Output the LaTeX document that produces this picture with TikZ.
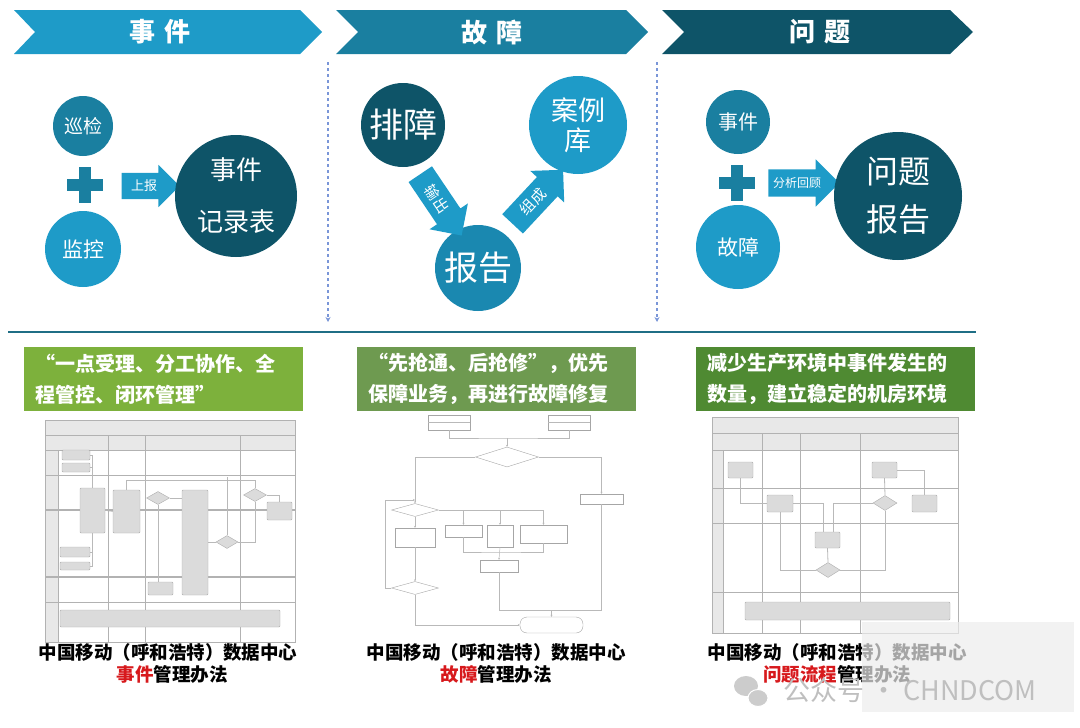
\documentclass[tikz,border=0pt]{standalone}
\usepackage{fontspec}
\usetikzlibrary{arrows.meta,shapes.arrows,shapes.geometric}
\newfontfamily\cjk{Noto Sans CJK SC}
\definecolor{cyanA}{HTML}{1E9BC8}
\definecolor{cyanB}{HTML}{1A7FA0}
\definecolor{cyanC}{HTML}{0E5468}
\definecolor{cyanD}{HTML}{1A88B0}
\definecolor{rulecol}{HTML}{1F6E85}
\definecolor{dashblue}{HTML}{7A96D8}
\definecolor{greenA}{HTML}{7DB13C}
\definecolor{greenB}{HTML}{6E9A50}
\definecolor{greenC}{HTML}{4F8A32}
\definecolor{capred}{HTML}{D7191C}
\newcommand{\fs}[1]{\fontsize{#1}{#1}\selectfont}
\newcommand{\plussign}[1]{%
  \fill[cyanB] ([shift={(-18,-6)}]#1) rectangle ([shift={(18,6)}]#1);
  \fill[cyanB] ([shift={(-6,-18)}]#1) rectangle ([shift={(6,18)}]#1);}

\begin{document}
\begin{tikzpicture}[x=1pt,y=-1pt,
  bubble/.style={circle,inner sep=0pt,text=white,align=center},
  blockarrow/.style={single arrow,fill=#1,text=white,inner xsep=2pt,inner ysep=6pt,
    single arrow head extend=8pt,font=\cjk\fs{13}},
  title/.style={text=white,font=\cjk\bfseries\fs{26}},
  divider/.style={draw=dashblue,line width=1.3pt,dash pattern=on 3pt off 3pt,-{Stealth[length=5pt,width=5pt]}},
  slogan/.style={fill=#1,text=white,font=\cjk\bfseries\fontsize{20}{31}\selectfont,
    align=left,text width=257pt,inner xsep=11pt,inner ysep=0pt,minimum height=64pt,anchor=north west},
  caption/.style={font=\cjk\bfseries\fs{18.5}},
  lane/.style={draw=gray!60,line width=0.5pt},
  tbox/.style={draw=gray!65,fill=gray!28,inner sep=0pt,rounded corners=1pt,line width=0.4pt},
  tdiam/.style={diamond,draw=gray!65,fill=gray!28,inner sep=0pt,line width=0.4pt},
  fbox/.style={draw=gray!70,fill=white,inner sep=0pt,line width=0.4pt},
  fdiam/.style={diamond,draw=gray!70,fill=white,inner sep=0pt,line width=0.4pt},
  tlink/.style={draw=gray!55,line width=0.5pt},
  tarrow/.style={tlink,-{Stealth[length=2pt,width=2pt]}}]
\useasboundingbox (0,0) rectangle (1080,728);

% header chevrons
\fill[cyanA] (14,10) -- (300,10) -- (322,32) -- (300,54) -- (14,54) -- (35,32) -- cycle;
\fill[cyanB] (336,10) -- (626,10) -- (648,32) -- (626,54) -- (336,54) -- (358,32) -- cycle;
\fill[cyanC] (662,10) -- (950,10) -- (973,32) -- (950,54) -- (662,54) -- (684,32) -- cycle;
\node[title] (h1) at (160,32) {事\hspace{10pt}件};
\node[title] (h2) at (492,32) {故\hspace{10pt}障};
\node[title] (h3) at (820,32) {问\hspace{10pt}题};

% dividers
\coordinate (d1a) at (328,62); \coordinate (d1b) at (328,322);
\coordinate (d2a) at (657,62); \coordinate (d2b) at (657,322);
\draw[divider] (d1a) -- (d1b);
\draw[divider] (d2a) -- (d2b);
\coordinate (ra) at (8,332); \coordinate (rb) at (976,332);
\draw[rulecol,line width=2pt] (ra) -- (rb);

% event
\node[bubble,fill=cyanB,minimum size=60pt,font=\cjk\fs{19}] (xunjian) at (83,126) {巡检};
\node[bubble,fill=cyanA,minimum size=76pt,font=\cjk\fs{21}] (jiankong) at (83,249) {监控};
\coordinate (plus1) at (85,185);
\plussign{plus1}
\node[blockarrow=cyanA,minimum height=58pt,inner ysep=7pt] (shangbao) at (144,186) {上报};
\node[bubble,fill=cyanC,minimum size=122pt,font=\cjk\fontsize{26}{52}\selectfont] (jilu) at (236,196) {事件\\记录表};

% fault
\node[bubble,fill=cyanC,minimum size=84pt,font=\cjk\fs{34}] (paizhang) at (403,125) {排障};
\node[bubble,fill=cyanA,minimum size=98pt,font=\cjk\fontsize{27}{30}\selectfont] (anli) at (578,125) {案例\\库};
\node[bubble,fill=cyanD,minimum size=86pt,font=\cjk\fs{34}] (baogao) at (478,268) {报告};
\node[blockarrow=cyanA,minimum height=74pt,inner ysep=7pt,single arrow head extend=9pt,rotate=-56,font=\cjk\fs{15}] (shuchu) at (437,199) {输出};
\node[blockarrow=cyanA,minimum height=74pt,inner ysep=7pt,single arrow head extend=9pt,rotate=47,font=\cjk\fs{15}] (zucheng) at (533,202) {组成};

% problem
\node[bubble,fill=cyanB,minimum size=64pt,font=\cjk\fs{20}] (shijian) at (738,122) {事件};
\node[bubble,fill=cyanA,minimum size=84pt,font=\cjk\fs{21}] (guzhang) at (738,247) {故障};
\coordinate (plus2) at (737,183);
\plussign{plus2}
\node[blockarrow=cyanA,minimum height=71pt,inner ysep=8pt,single arrow head extend=10pt,font=\cjk\fs{12}] (fenxi) at (797,183) {分析回顾};
\node[bubble,fill=cyanC,minimum size=128pt,font=\cjk\fontsize{32}{48}\selectfont] (wenti) at (898,196) {问题\\报告};

% slogans
\node[slogan=greenA] (s1) at (24,347) {“一点受理、分工协作、全\\程管控、闭环管理”};
\node[slogan=greenB] (s2) at (357,347) {“先抢通、后抢修”，优先\\保障业务，再进行故障修复};
\node[slogan=greenC] (s3) at (696,347) {减少生产环境中事件发生的\\数量，建立稳定的机房环境};

% event swimlane thumbnail
\fill[gray!18] (45,420) rectangle (295,450);
\fill[gray!18] (45,450) rectangle (58,642);
\draw[lane] (45,420) rectangle (295,642);
\draw[lane] (45,435) -- (295,435) (45,450) -- (295,450) (58,450) -- (58,642);
\foreach \x in {108,145,240} \draw[lane] (\x,435) -- (\x,642);
\foreach \y in {475,602} \draw[lane] (45,\y) -- (295,\y);
\draw[lane,line width=1.2pt] (45,510) -- (295,510) (45,577) -- (295,577);
\node[tbox,minimum width=28pt,minimum height=10pt] (e1) at (76,455) {};
\node[tbox,minimum width=28pt,minimum height=9pt] (e2) at (76,467.5) {};
\node[tbox,minimum width=25pt,minimum height=45pt] (e3) at (92.5,510.5) {};
\node[tbox,minimum width=27pt,minimum height=43pt] (e4) at (126.5,511.5) {};
\node[tdiam,minimum width=23pt,minimum height=13pt] (ed1) at (158,498) {};
\node[tbox,minimum width=26pt,minimum height=105pt] (e5) at (195,542.5) {};
\node[tdiam,minimum width=22pt,minimum height=13pt] (ed2) at (227,542) {};
\node[tdiam,minimum width=23pt,minimum height=13pt] (ed3) at (255,495) {};
\node[tbox,minimum width=25pt,minimum height=18pt] (e6) at (279.5,511) {};
\node[tbox,minimum width=30pt,minimum height=10pt] (e7) at (75,552) {};
\node[tbox,minimum width=30pt,minimum height=8pt] (e8) at (75,566) {};
\node[tbox,minimum width=25pt,minimum height=13pt] (e9) at (160.5,588.5) {};
\node[tbox,minimum width=220pt,minimum height=17pt] (e10) at (170,618.5) {};
\draw[tlink] (e1.east) -| (e3.north) (e2.east) -| (e3.north);
\draw[tlink] (e7.east) -| (e3.south) (e8.east) -| (e3.south);
\draw[tlink] (e3.east) -- (e4.west);
\draw[tlink] (e4.north) -- ++(0,-10) -| (ed3.north);
\draw[tlink] (ed1.east) -- (e5.west |- ed1.east);
\draw[tlink] (ed1.south) -- (ed1.south |- e9.north);
\draw[tlink] (e5.east |- ed2.west) -- (ed2.west);
\draw[tlink] (ed2.north) -- ++(0,-58);
\draw[tlink] (ed2.east) -| (ed3.south);
\draw[tlink] (ed3.east) -| (e6.north);

% fault flowchart thumbnail
\node[fbox,minimum width=42pt,minimum height=15pt] (f1) at (449,422.5) {};
\node[fbox,minimum width=42pt,minimum height=15pt] (f2) at (569,422.5) {};
\draw[tlink] (f1.west) -- (f1.east) (f2.west) -- (f2.east);
\node[fdiam,minimum width=63pt,minimum height=20pt] (fd1) at (507,457) {};
\node[fdiam,minimum width=47pt,minimum height=13pt] (fd2) at (415,510) {};
\node[fbox,minimum width=43pt,minimum height=10pt] (fR) at (601.5,499) {};
\node[fbox,minimum width=40pt,minimum height=19pt] (fL) at (415,537.5) {};
\node[fbox,minimum width=37pt,minimum height=12pt] (fA) at (463.5,531) {};
\node[fbox,minimum width=26pt,minimum height=22pt] (fB) at (500,536) {};
\node[fbox,minimum width=47pt,minimum height=18pt] (fC) at (543.5,534) {};
\node[fbox,minimum width=38pt,minimum height=12pt] (fM) at (499,566) {};
\node[fdiam,minimum width=47pt,minimum height=13pt] (fd3) at (415,588) {};
\node[fbox,rounded corners=7pt,minimum width=63pt,minimum height=16pt] (fT) at (551.5,625) {};
\coordinate (fj) at (507,438);
\coordinate (fk) at (499,552);
\coordinate (fm) at (551.5,610);
\coordinate (floop) at (385,500);
\coordinate (floopend) at (415,500);
\draw[tlink] (f1.south) |- (fj) -| (f2.south);
\draw[tarrow] (fj) -- (fd1.north);
\draw[tarrow] (fd1.west) -| (fd2.north);
\draw[tarrow] (fd1.east) -| (fR.north);
\draw[tarrow] (fd2.south) -- (fL.north);
\draw[tarrow] (fd2.east) -| (fC.north);
\draw[tarrow] (fA.north |- fd2.east) -- (fA.north);
\draw[tarrow] (fB.north |- fd2.east) -- (fB.north);
\draw[tlink] (fA.south) |- (fk) -| (fC.south);
\draw[tarrow] (fB.south) -- (fM.north);
\draw[tarrow] (fL.south) -- (fd3.north);
\draw[tarrow] (fd3.west) -| (floop) -- (floopend);
\draw[tarrow] (fd3.south) |- (fT.west);
\draw[tlink] (fM.south) |- (fm);
\draw[tlink] (fR.south) |- (fm);
\draw[tarrow] (fm) -- (fT.north);

% problem swimlane thumbnail
\fill[gray!18] (712,417) rectangle (958,450);
\fill[gray!18] (712,450) rectangle (723,633);
\draw[lane] (712,417) rectangle (958,633);
\draw[lane] (712,433) -- (958,433) (712,450) -- (958,450) (723,450) -- (723,633);
\foreach \x in {762,800} \draw[lane] (\x,433) -- (\x,633);
\draw[lane,line width=1pt] (860,433) -- (860,633);
\foreach \y in {488,523,592} \draw[lane] (712,\y) -- (958,\y);
\node[tbox,minimum width=25pt,minimum height=16pt] (p1) at (740.5,470) {};
\node[tbox,minimum width=26pt,minimum height=17pt] (p2) at (780,503.5) {};
\node[tbox,minimum width=25pt,minimum height=16pt] (p3) at (827.5,540) {};
\node[tdiam,minimum width=24pt,minimum height=15pt] (pd1) at (828,570) {};
\node[tbox,minimum width=25pt,minimum height=16pt] (p4) at (884.5,470) {};
\node[tdiam,minimum width=24pt,minimum height=15pt] (pd2) at (885,503) {};
\node[tbox,minimum width=25pt,minimum height=17pt] (p5) at (924.5,503.5) {};
\node[tbox,minimum width=205pt,minimum height=18pt] (p6) at (847.5,611) {};
\draw[tlink,line width=0.8pt] (p1.south) |- (p2.west);
\draw[tlink,line width=0.8pt] (p2.east) -| ([xshift=-4pt]p3.north);
\draw[tlink,line width=0.8pt] (p2.south) |- (pd1.west);
\draw[tlink,line width=0.8pt] (pd1.north) -- (p3.south);
\draw[tlink,line width=0.8pt] (pd1.east) -| (pd2.south);
\draw[tlink,line width=0.8pt] (pd2.west) -| ([xshift=6pt]p3.north);
\draw[tlink,line width=0.8pt] (pd2.north) -- (p4.south);
\draw[tlink,line width=0.8pt] (p4.east) -| (p5.north);

% captions
\node[caption] (c1) at (168,652) {中国移动（呼和浩特）数据中心};
\node[caption] (c1b) at (172,674) {\textcolor{capred}{事件}管理办法};
\node[caption] (c2) at (496,652) {中国移动（呼和浩特）数据中心};
\node[caption] (c2b) at (496,674) {\textcolor{capred}{故障}管理办法};
\node[caption] (c3) at (837,652) {中国移动（呼和浩特）数据中心};
\node[caption] (c3b) at (837,674) {\textcolor{capred}{问题流程}管理办法};

% watermark
\fill[gray!15,opacity=0.7] (862,622) rectangle (1074,712);
\fill[gray!40] (746,686) ellipse (12 and 10);
\draw[white,fill=gray!40,line width=1pt] (758,698) ellipse (10 and 8.5);
\node[text=gray!50,font=\cjk\fs{27}] (wm) at (910,690) {公众号 · CHNDCOM};
\end{tikzpicture}
\end{document}
